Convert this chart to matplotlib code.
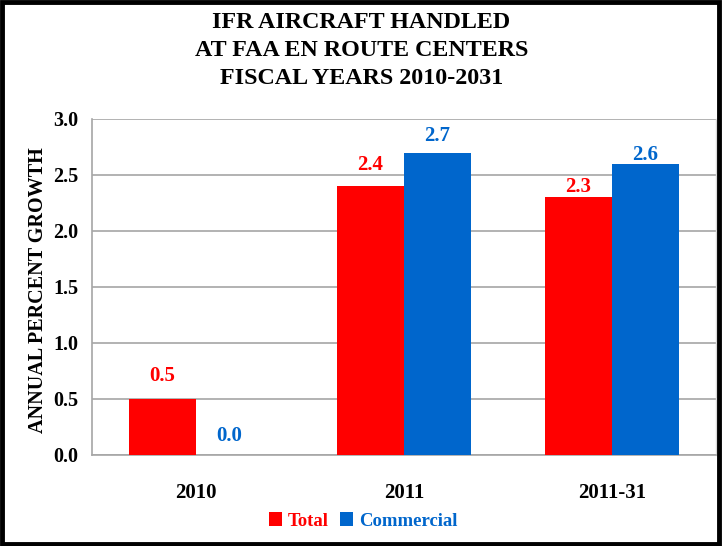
import matplotlib
matplotlib.use("Agg")
import matplotlib.pyplot as plt
from matplotlib.patches import Rectangle
import numpy as np

plt.rcParams['font.family'] = ['Liberation Serif', 'DejaVu Serif']
plt.rcParams['font.weight'] = 'bold'

categories = ["2010", "2011", "2011-31"]
total = [0.5, 2.4, 2.3]
commercial = [0.0, 2.7, 2.6]
title_lines = ["IFR AIRCRAFT HANDLED", "AT FAA EN ROUTE CENTERS", "FISCAL YEARS 2010-2031"]
y_ticks = [0.0, 0.5, 1.0, 1.5, 2.0, 2.5, 3.0]

RED = "#FF0000"
BLUE = "#0066CC"
GRID = "#A6A6A6"

W, H = 723, 546
fig = plt.figure(figsize=(W / 100, H / 100), dpi=100)
ax = fig.add_axes([92 / W, 91 / H, 624 / W, 336 / H])

x = np.arange(len(categories))
w = 0.322
ax.bar(x - w / 2, total, width=w, color=RED, label="Total", zorder=3)
ax.bar(x + w / 2, commercial, width=w, color=BLUE, label="Commercial", zorder=3)

# value labels above each bar (offsets in points)
total_off = [16.5, 15, 7.5]
comm_off = [13.5, 12, 6.5]
for xi, v, off in zip(x, total, total_off):
    ax.annotate(f"{v:.1f}", (xi - w / 2, v), xytext=(0, off), textcoords="offset points",
                ha="center", va="center", color=RED, fontsize=15, fontweight="bold")
for xi, v, off in zip(x, commercial, comm_off):
    ax.annotate(f"{v:.1f}", (xi + w / 2, v), xytext=(0, off), textcoords="offset points",
                ha="center", va="center", color=BLUE, fontsize=15, fontweight="bold")

ax.set_xlim(-0.5, len(categories) - 0.5)
ax.set_ylim(0, 3.0)
ax.set_yticks(y_ticks)
ax.set_yticklabels([f"{t:.1f}" for t in y_ticks], fontsize=14.5, fontweight="bold")
ax.set_xticks(x)
ax.set_xticklabels(categories, fontsize=15, fontweight="bold")
ax.tick_params(axis="y", length=0, pad=10)
ax.tick_params(axis="x", length=0, pad=20)
ax.yaxis.grid(True, color=GRID, linewidth=1.2, zorder=0)
ax.set_axisbelow(True)
for side in ["left", "bottom"]:
    ax.spines[side].set_color(GRID)
    ax.spines[side].set_linewidth(1.2)
ax.spines["top"].set_visible(False)
ax.spines["right"].set_color("#D9D9D9")
ax.spines["right"].set_linewidth(1.0)

ax.set_ylabel("ANNUAL PERCENT GROWTH", fontsize=14.5, fontweight="bold", va="center")
ax.yaxis.set_label_coords((38 - 92) / 624, 0.49)

for i, line in enumerate(title_lines):
    fig.text(0.5, 1 - (22 + 28.5 * i) / H, line, ha="center", va="center",
             fontsize=17.3, fontweight="bold")

leg = fig.legend(loc="center", bbox_to_anchor=(363 / W, 1 - 521 / H), ncol=2, frameon=False,
                 handlelength=0.7, handleheight=0.7, handletextpad=0.3, columnspacing=0.6,
                 prop={"size": 13.5, "weight": "bold"})
for txt, col in zip(leg.get_texts(), [RED, BLUE]):
    txt.set_color(col)

fig.patches.append(Rectangle((0.003, 0.004), 0.992, 0.992, transform=fig.transFigure,
                             fill=False, edgecolor="black", linewidth=3.5))

fig.savefig("out.png", dpi=100)
